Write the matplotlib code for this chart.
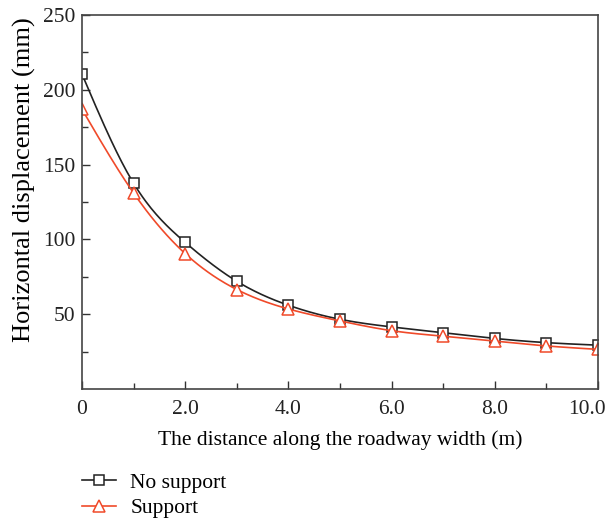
import numpy as np
import matplotlib
matplotlib.use('Agg')
import matplotlib.pyplot as plt
from matplotlib.ticker import MultipleLocator, FixedLocator
from matplotlib.transforms import ScaledTranslation

# data
distance = [0, 1, 2, 3, 4, 5, 6, 7, 8, 9, 10]
no_support = [210.5, 137.5, 98, 72, 56, 46.6, 41.5, 37.6, 33.8, 31, 29.3]
support = [187, 131, 90.5, 66.5, 53.5, 45.5, 39, 35.3, 32, 28.8, 26.5]
x_ticks = [0, 2, 4, 6, 8, 10]
x_labels = ['0', '2.0', '4.0', '6.0', '8.0', '10.0']
y_ticks = [50, 100, 150, 200, 250]


def natural_spline(x, y, n=300):
    # plain natural cubic spline, only used to draw the smooth connecting line
    x = np.asarray(x, float)
    y = np.asarray(y, float)
    h = np.diff(x)
    m = len(x)
    A = np.zeros((m, m))
    b = np.zeros(m)
    A[0, 0] = A[-1, -1] = 1
    for i in range(1, m - 1):
        A[i, i - 1] = h[i - 1]
        A[i, i] = 2 * (h[i - 1] + h[i])
        A[i, i + 1] = h[i]
        b[i] = 6 * ((y[i + 1] - y[i]) / h[i] - (y[i] - y[i - 1]) / h[i - 1])
    M = np.linalg.solve(A, b)
    xs = np.linspace(x[0], x[-1], n)
    idx = np.clip(np.searchsorted(x, xs) - 1, 0, m - 2)
    x0, x1 = x[idx], x[idx + 1]
    hh = x1 - x0
    t0 = x1 - xs
    t1 = xs - x0
    ys = (M[idx] * t0 ** 3 + M[idx + 1] * t1 ** 3) / (6 * hh) \
        + (y[idx] / hh - M[idx] * hh / 6) * t0 \
        + (y[idx + 1] / hh - M[idx + 1] * hh / 6) * t1
    return xs, ys


plt.rcParams['font.family'] = ['Liberation Serif', 'DejaVu Serif']
plt.rcParams['font.size'] = 15.5

fig = plt.figure(figsize=(6.06, 5.24), dpi=100)
ax = fig.add_axes([0.1353, 0.2576, 0.8515, 0.7138])

black = '#222222'
red = '#f04a2a'

xs, ys = natural_spline(distance, no_support)
ax.plot(xs, ys, color=black, lw=1.2)
ax.plot(distance, no_support, ls='none', marker='s', ms=7, mfc='white',
        mec=black, mew=1.1)
xs, ys = natural_spline(distance, support)
ax.plot(xs, ys, color=red, lw=1.2)
ax.plot(distance, support, ls='none', marker='^', ms=9, mfc='white',
        mec=red, mew=1.1)

ax.set_xlim(0, 10)
ax.set_ylim(0, 250)
ax.xaxis.set_major_locator(FixedLocator(x_ticks))
ax.set_xticklabels(x_labels)
ax.xaxis.set_minor_locator(MultipleLocator(1))
ax.yaxis.set_major_locator(FixedLocator(y_ticks))
ax.yaxis.set_minor_locator(FixedLocator([25, 75, 125, 175, 225]))
ax.tick_params(which='both', direction='in', top=False, right=False,
               colors='#333333', labelcolor='#222222')
ax.tick_params(which='major', length=6, width=1)
ax.tick_params(which='minor', length=4, width=1)
ax.tick_params(axis='x', pad=8)
ax.tick_params(axis='y', pad=5)
for s in ax.spines.values():
    s.set_color('#444444')
    s.set_linewidth(1.2)

# last x label is pulled left so it stays inside the figure
last = ax.get_xticklabels()[-1]
last.set_transform(last.get_transform() + ScaledTranslation(-0.11, 0, fig.dpi_scale_trans))

ax.set_xlabel('The distance along the roadway width (m)', labelpad=8)
ax.set_ylabel('Horizontal displacement (mm)', fontsize=19, labelpad=4)
ax.yaxis.set_label_coords(-0.09, 0.56)

h1, = ax.plot([], [], color=black, lw=1.2, marker='s', ms=7, mfc='white',
              mec=black, mew=1.1)
h2, = ax.plot([], [], color=red, lw=1.2, marker='^', ms=9, mfc='white',
              mec=red, mew=1.1)
fig.legend([h1, h2], ['No support', 'Support'], loc='upper left',
           bbox_to_anchor=(0.1353, 0.098), frameon=False, handlelength=1.6,
           handletextpad=0.65, labelspacing=0.25, borderpad=0,
           borderaxespad=0)

plt.savefig('out.png', dpi=100)
plt.close()
